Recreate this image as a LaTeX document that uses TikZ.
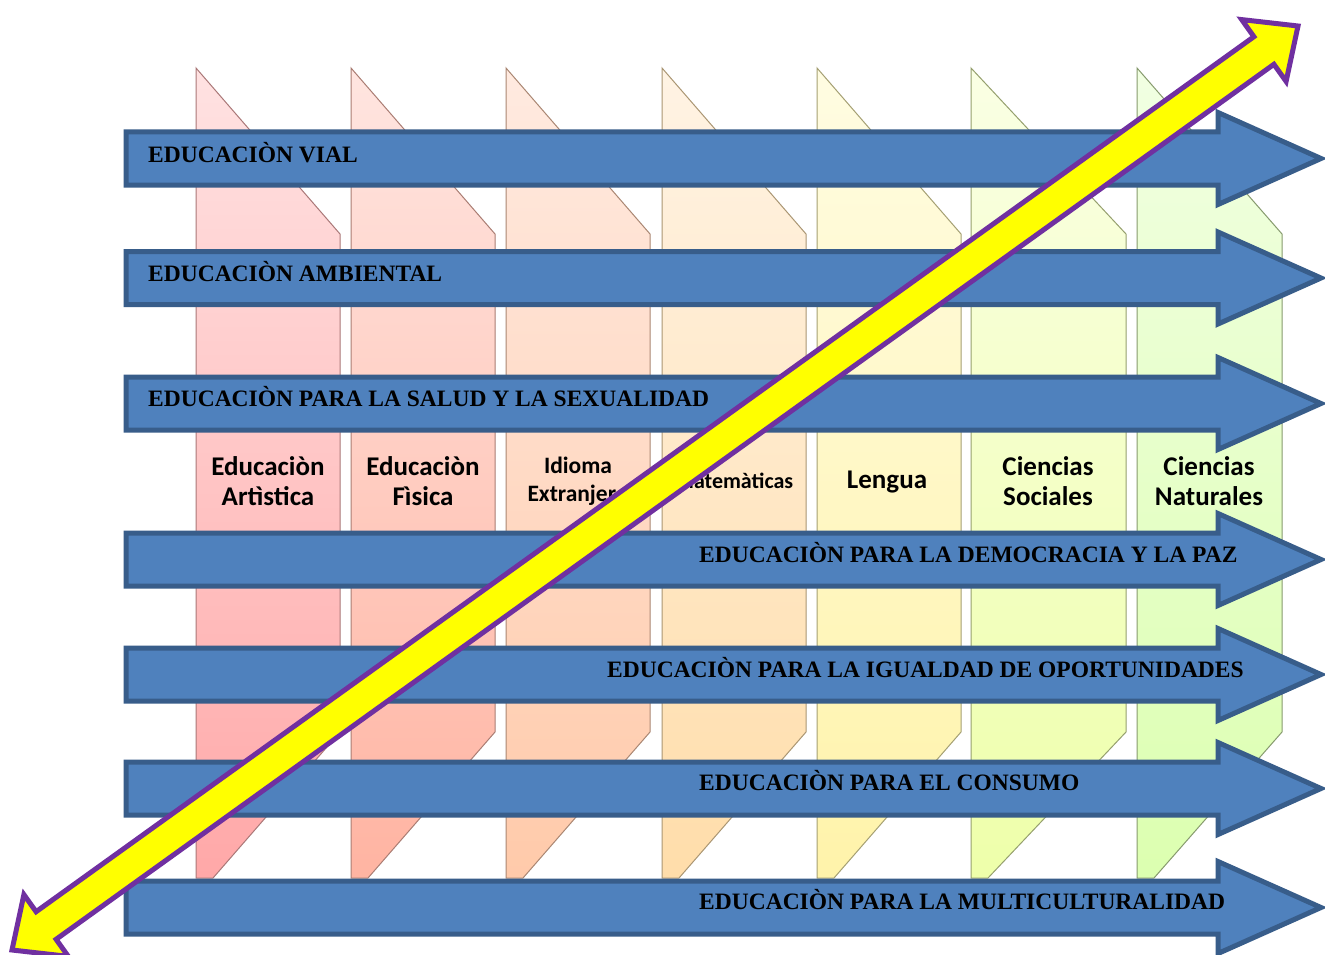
\documentclass[tikz,border=0pt]{standalone}
\usepackage{fontspec}
\setmainfont{Liberation Serif}
\newfontfamily\calfont{Carlito}
\definecolor{arrfill}{HTML}{4F81BD}
\definecolor{arredge}{HTML}{385D8A}
\definecolor{ylw}{HTML}{FFFF00}
\definecolor{purp}{HTML}{7030A0}
\definecolor{c1t}{RGB}{255,226,226}\definecolor{c1b}{RGB}{255,168,168}\definecolor{c1e}{RGB}{170,120,120}
\definecolor{c2t}{RGB}{255,229,224}\definecolor{c2b}{RGB}{255,180,162}\definecolor{c2e}{RGB}{170,125,115}
\definecolor{c3t}{RGB}{255,234,224}\definecolor{c3b}{RGB}{255,202,170}\definecolor{c3e}{RGB}{170,135,115}
\definecolor{c4t}{RGB}{255,243,228}\definecolor{c4b}{RGB}{255,221,170}\definecolor{c4e}{RGB}{170,150,115}
\definecolor{c5t}{RGB}{255,252,226}\definecolor{c5b}{RGB}{255,243,170}\definecolor{c5e}{RGB}{165,160,115}
\definecolor{c6t}{RGB}{250,255,228}\definecolor{c6b}{RGB}{238,255,170}\definecolor{c6e}{RGB}{150,160,110}
\definecolor{c7t}{RGB}{241,255,226}\definecolor{c7b}{RGB}{220,255,176}\definecolor{c7e}{RGB}{135,155,110}
\tikzset{
  bluearrow/.style={fill=arrfill, draw=arredge, line width=5pt, miter limit=20},
  arrtext/.style={font=\bfseries\fontsize{23.5}{27}\selectfont, text=black, anchor=base west, inner sep=0pt},
  collabel/.style={font=\calfont\bfseries\fontsize{27}{30}\selectfont, align=center, text=black, inner sep=0pt},
  smalllabel/.style={font=\calfont\bfseries\fontsize{23.5}{28}\selectfont, align=center, text=black, inner sep=0pt},
  yarrow/.style={fill=ylw, draw=purp, line width=5pt, line join=miter, miter limit=20}
}
\begin{document}
\begin{tikzpicture}[x=1pt,y=-1pt]
\useasboundingbox[fill=white] (0,0) rectangle (1325,955);
% columns
\foreach \L/\W/\n in {196/144/1,351/144/2,506/144/3,662/144/4,817/144/5,971/155/6,1137/145/7}{
  \path[top color=c\n t, bottom color=c\n b, draw=c\n e, line width=1pt]
    (\L,68) -- (\L+\W,234) -- (\L+\W,732) -- (\L+17,878) -- (\L,878) -- cycle;
}
% blue arrows
\foreach \y in {158.5,278,403.5,559.5,674.5,788.5,907.5}{
  \draw[bluearrow] (126,\y-26.5) -- (1218,\y-26.5) -- (1218,\y-46) -- (1321,\y)
     -- (1218,\y+46) -- (1218,\y+26.5) -- (126,\y+26.5) -- cycle;
}
\node[arrtext] (t1) at (148,162) {EDUCACIÒN VIAL};
\node[arrtext] (t2) at (148,281.5) {EDUCACIÒN AMBIENTAL};
\node[arrtext] (t3) at (148,406.5) {EDUCACIÒN PARA LA SALUD Y LA SEXUALIDAD};
\node[arrtext] (t4) at (699,562) {EDUCACIÒN PARA LA DEMOCRACIA Y LA PAZ};
\node[arrtext] (t5) at (607,677) {EDUCACIÒN PARA LA IGUALDAD DE OPORTUNIDADES};
\node[arrtext] (t6) at (699,790) {EDUCACIÒN PARA EL CONSUMO};
\node[arrtext] (t7) at (699,909) {EDUCACIÒN PARA LA MULTICULTURALIDAD};
% column labels
\node[collabel] (l1) at (268,481) {Educaciòn\\Artìstica};
\node[collabel] (l2) at (423,481) {Educaciòn\\Fìsica};
\node[smalllabel] (l3) at (578,481) {Idioma\\Extranjero};
\node[smalllabel,font=\calfont\bfseries\fontsize{22}{26}\selectfont] (l4) at (734,481) {Matemàticas};
\node[collabel] (l5) at (887,482) {Lengua};
\node[collabel] (l6) at (1048,481) {Ciencias\\Sociales};
\node[collabel] (l7) at (1209,481) {Ciencias\\Naturales};
% yellow double arrow
\draw[yarrow] (12,950) -- (23.9,894.6) -- (36.1,911.7) -- (1253.9,36.7) -- (1241.7,19.6)
  -- (1298,26) -- (1286.1,81.4) -- (1273.9,64.3) -- (56.1,939.3) -- (68.3,956.4) -- cycle;
\end{tikzpicture}
\end{document}
